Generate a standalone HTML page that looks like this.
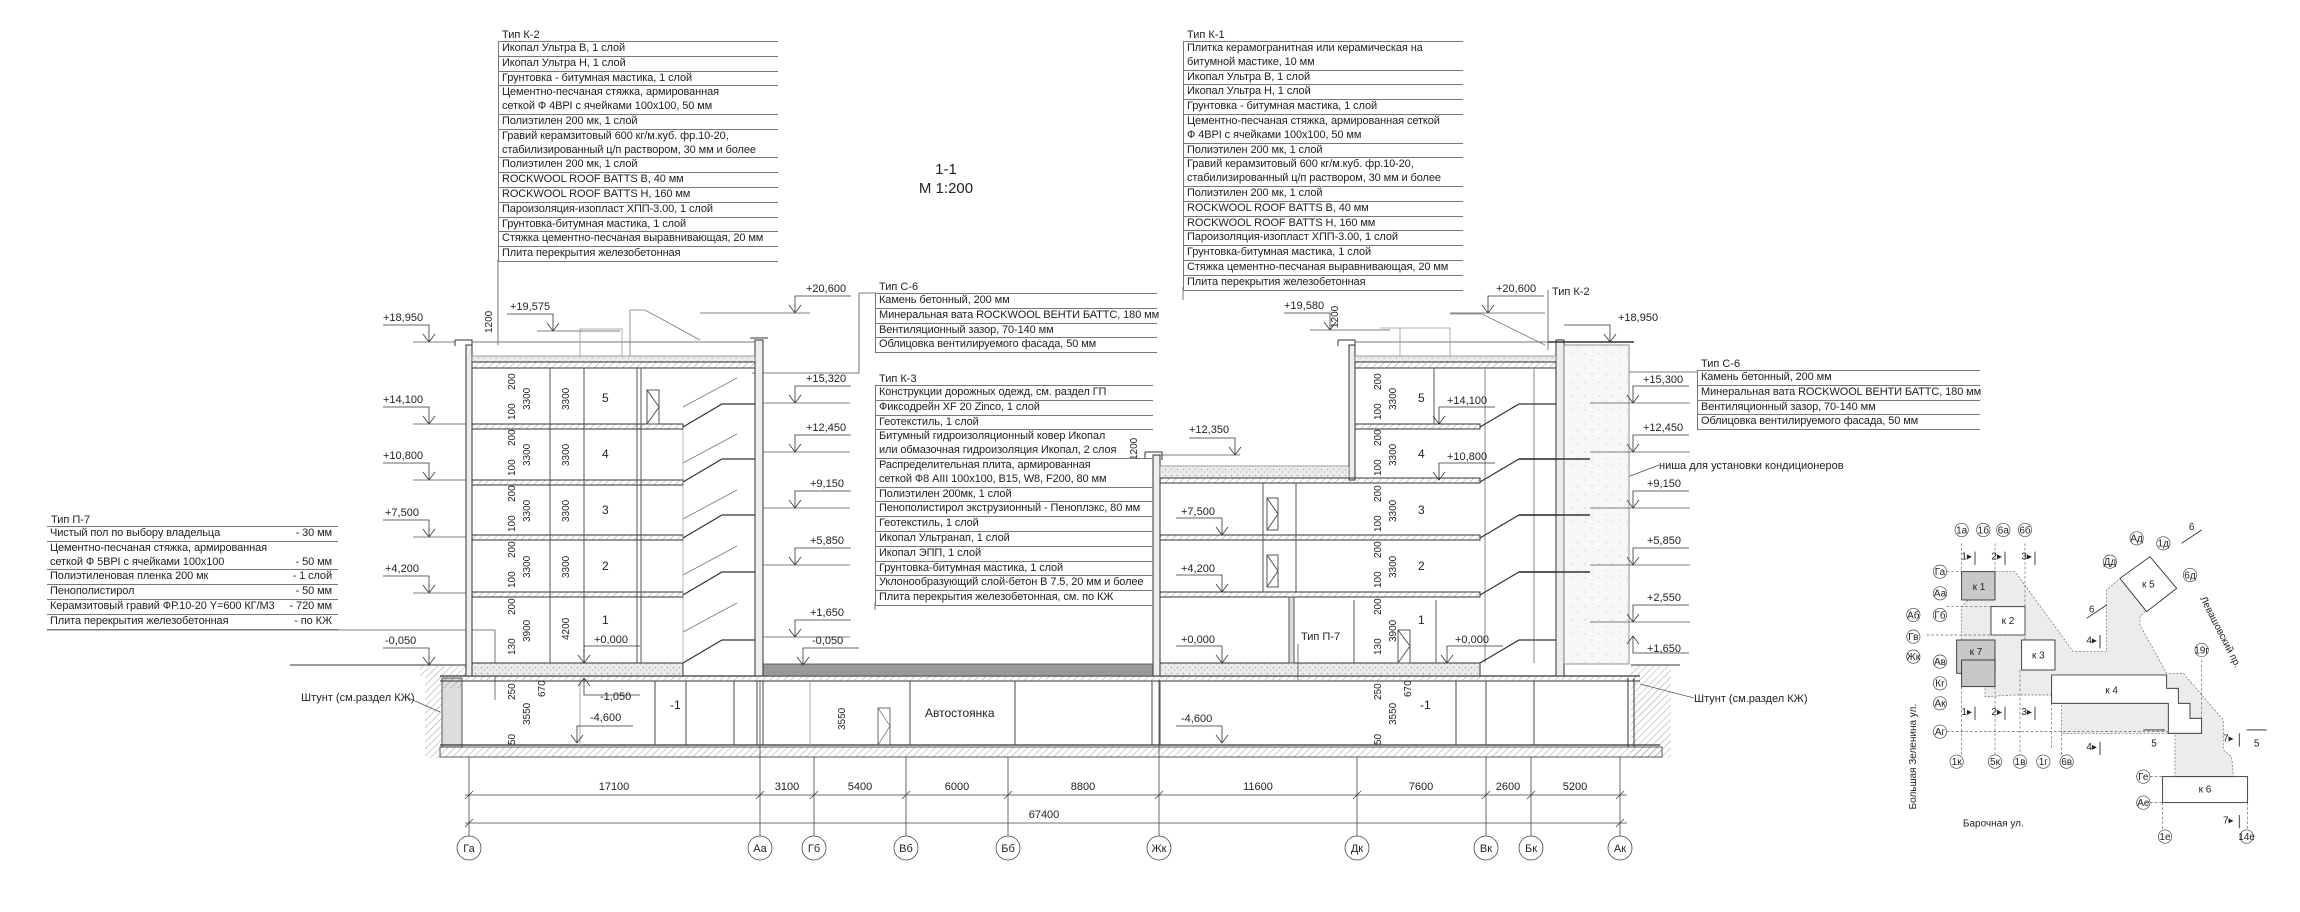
<!DOCTYPE html>
<html><head><meta charset="utf-8">
<style>
html,body{margin:0;padding:0;background:#fff;}
body{width:2300px;height:912px;position:relative;overflow:hidden;font-family:"Liberation Sans","DejaVu Sans",sans-serif;color:#222;}
.t{position:absolute;font-size:11px;line-height:13.8px;}
.t .h{padding-left:4px;height:12px;line-height:12px;}
.t .r{border-top:1px solid #777;padding-left:3px;white-space:nowrap;letter-spacing:-0.1px}
.t .b{border-top:1px solid #777;}
.t .body{border-left:1px solid #777;}
.t .r span{float:right;padding-right:6px}
svg{position:absolute;left:0;top:0}
svg text{font-family:"Liberation Sans","DejaVu Sans",sans-serif;fill:#222}
</style></head><body>
<svg width="2300" height="912" viewBox="0 0 2300 912" xmlns="http://www.w3.org/2000/svg">
<defs>
<pattern id="hat" width="5" height="5" patternUnits="userSpaceOnUse" patternTransform="rotate(45)"><line x1="0" y1="0" x2="0" y2="5" stroke="#777" stroke-width="0.7"/></pattern>
<pattern id="gr" width="6" height="6" patternUnits="userSpaceOnUse"><rect width="6" height="6" fill="#ececec"/><circle cx="1.5" cy="1.5" r="0.8" fill="#aaa"/><circle cx="4.5" cy="4" r="0.7" fill="#bbb"/></pattern>
<pattern id="st" width="14" height="14" patternUnits="userSpaceOnUse"><rect width="14" height="14" fill="#f7f7f7"/><circle cx="3" cy="4" r="0.6" fill="#bbb"/><circle cx="10" cy="10" r="0.6" fill="#bbb"/><circle cx="11" cy="2" r="0.5" fill="#ccc"/></pattern>
<g id="lv" fill="none" stroke="#333" stroke-width="0.8"><path d="M-46,-17 H0 V0 M-6,-8 L0,0 L6,-8"/></g>
<g id="lvr" fill="none" stroke="#333" stroke-width="0.8"><path d="M56,-17 H0 V0 M-6,-8 L0,0 L6,-8"/></g>
<g id="lvu" fill="none" stroke="#333" stroke-width="0.8"><path d="M56,17 H0 V0 M-6,8 L0,0 L6,8"/></g>
</defs>

<text x="946" y="174" font-size="15" text-anchor="middle">1-1</text>
<text x="946" y="193" font-size="15" text-anchor="middle">М 1:200</text>

<g stroke="#555" stroke-width="0.8" fill="none">
<path d="M498,259 V345"/>
<path d="M1183,287 V300"/>
<path d="M752,373 H859 V293 H876"/>
<path d="M875,603 V610"/>
<path d="M1570,372 H1697"/>
<path d="M1548,290 V350"/>
<path d="M47,630 H495 V700"/>
<path d="M1659,465 L1572,498"/>
</g>

<g stroke="#333" stroke-width="0.9" fill="none">
<path d="M290,665 H466"/>
<path d="M1631,665 H1680"/>
</g>
<rect x="420" y="666" width="46" height="10" fill="url(#hat)"/>
<rect x="425" y="676" width="17" height="82" fill="url(#hat)"/>
<rect x="1631" y="666" width="40" height="92" fill="url(#hat)"/>

<rect x="440" y="747" width="1222" height="10" fill="url(#hat)" stroke="#333" stroke-width="0.8"/>
<rect x="442" y="678" width="20" height="69" fill="#ddd" stroke="#333" stroke-width="0.8"/>
<rect x="442" y="678" width="20" height="10" fill="url(#hat)"/>
<g stroke="#333" fill="none">
<path d="M440,676 H1640" stroke-width="1.2"/>
<path d="M440,681 H1640" stroke-width="1"/>
<path d="M440,745 H1660" stroke-width="1.2"/>
<path d="M1628,678 V747 M1634,678 V747" stroke-width="1"/>
</g>
<rect x="440" y="676" width="1200" height="5" fill="url(#hat)"/>
<g stroke="#444" stroke-width="1" fill="none">
<path d="M655,681 V745 M686,681 V745 M734,681 V745 M757,681 V745 M763,681 V745 M910,681 V745 M1015,681 V745 M1152,681 V745 M1160,681 V745 M1456,681 V745 M1486,681 V745 M1534,681 V745"/>
<path d="M810,681 V745 M580,681 V745" stroke="#aaa"/>
</g>
<rect x="763" y="664" width="390" height="12" fill="#999" stroke="#444" stroke-width="0.8"/>
<rect x="878" y="708" width="12" height="37" fill="none" stroke="#444" stroke-width="0.8"/>
<path d="M878,708 L890,726 L878,745" fill="none" stroke="#444" stroke-width="0.6"/>

<g stroke="#333" fill="none" stroke-width="1">
<rect x="466" y="345" width="6" height="331" fill="#eee"/>
<path d="M455,340 H472 V348 M455,340 V346"/>
<rect x="755" y="340" width="8" height="336" fill="#eee"/>
<path d="M750,338 H768"/>
<path d="M472,342 H755" stroke="#777"/>
</g>
<rect x="472" y="356" width="283" height="6" fill="url(#gr)" stroke="#666" stroke-width="0.6"/>
<rect x="472" y="362" width="283" height="6" fill="url(#hat)" stroke="#333" stroke-width="1"/>
<rect x="580" y="329" width="42" height="27" fill="none" stroke="#999" stroke-width="0.8"/>
<path d="M630,310 V356 M630,310 H645 L700,340" fill="none" stroke="#777" stroke-width="0.8"/>
<g>
<rect x="472" y="424" width="211" height="5" fill="url(#hat)" stroke="#333" stroke-width="1"/>
<rect x="472" y="480" width="211" height="5" fill="url(#hat)" stroke="#333" stroke-width="1"/>
<rect x="472" y="535" width="211" height="5" fill="url(#hat)" stroke="#333" stroke-width="1"/>
<rect x="472" y="592" width="211" height="5" fill="url(#hat)" stroke="#333" stroke-width="1"/>
<rect x="472" y="663" width="211" height="13" fill="url(#gr)" stroke="#333" stroke-width="1"/>
</g>
<g stroke="#555" stroke-width="1" fill="none">
<path d="M550,368 V663 M584,368 V663 M637,368 V663 M641,368 V663"/>
<rect x="647" y="390" width="12" height="34"/>
<path d="M647,390 L659,407 L647,424"/>
</g>
<g stroke="#333" stroke-width="1.2" fill="none">
<path d="M683,427 L722,404 H755 M683,482 L722,459 H755 M683,538 L722,515 H755 M683,595 L722,572 H755 M683,663 L722,640 H755"/>
<path d="M683,407 L737,378 M683,463 L737,434 M683,519 L737,490 M683,575 L737,546 M683,632 L737,603" stroke="#777" stroke-width="0.8"/>
<path d="M683,427 V663" stroke="#888" stroke-width="0.6"/>
</g>

<g stroke="#333" fill="none" stroke-width="1">
<rect x="1153" y="455" width="7" height="221" fill="#eee"/>
<path d="M1145,452 H1162 V460 M1145,452 V458"/>
<rect x="1349" y="345" width="6" height="135" fill="#eee"/>
<path d="M1338,340 H1355 V348 M1338,340 V346"/>
<rect x="1556" y="340" width="8" height="336" fill="#eee"/>
<path d="M1355,342 H1556" stroke="#777"/>
</g>
<rect x="1564" y="345" width="65" height="319" fill="url(#st)" stroke="#777" stroke-width="0.8"/>
<path d="M1548,342 H1634" stroke="#333" stroke-width="1.5"/>
<rect x="1160" y="466" width="189" height="12" fill="url(#gr)" stroke="#666" stroke-width="0.6"/>
<rect x="1160" y="478" width="320" height="5" fill="url(#hat)" stroke="#333" stroke-width="1"/>
<rect x="1355" y="356" width="201" height="6" fill="url(#gr)" stroke="#666" stroke-width="0.6"/>
<rect x="1355" y="362" width="201" height="6" fill="url(#hat)" stroke="#333" stroke-width="1"/>
<rect x="1355" y="424" width="125" height="5" fill="url(#hat)" stroke="#333" stroke-width="1"/>
<rect x="1160" y="535" width="320" height="5" fill="url(#hat)" stroke="#333" stroke-width="1"/>
<rect x="1160" y="592" width="320" height="5" fill="url(#hat)" stroke="#333" stroke-width="1"/>
<rect x="1160" y="663" width="320" height="13" fill="url(#gr)" stroke="#333" stroke-width="1"/>
<path d="M1380,328 H1450 V356 M1400,328 V356" fill="none" stroke="#999" stroke-width="0.8"/>
<path d="M1450,314 H1482 L1545,345" fill="none" stroke="#777" stroke-width="0.8"/>
<g stroke="#555" stroke-width="1" fill="none">
<path d="M1263,483 V592 M1296,483 V592 M1434,368 V424 M1436,600 V663 M1354,600 V663"/>
<rect x="1289" y="597" width="5" height="66" fill="#ddd"/>
<rect x="1267" y="498" width="11" height="32"/><path d="M1267,498 L1278,514 L1267,530"/>
<rect x="1267" y="555" width="11" height="32"/><path d="M1267,555 L1278,571 L1267,587"/>
<rect x="1398" y="630" width="12" height="33"/><path d="M1398,630 L1410,646 L1398,663"/>
<path d="M1485,368 V663 M1534,368 V663" stroke="#888"/>
</g>
<g stroke="#333" stroke-width="1.2" fill="none">
<path d="M1480,427 L1519,404 H1556 M1480,482 L1519,459 H1556 M1480,538 L1519,515 H1556 M1480,595 L1519,572 H1556 M1480,663 L1519,640 H1556"/>
<path d="M1519,459 H1590 M1519,515 H1590 M1519,572 H1590" stroke-width="1.5"/>
</g>

<g font-size="11">
<use href="#lv" x="429" y="342"/><text x="383" y="321">+18,950</text><path d="M413,342 H455" stroke="#555" stroke-width="0.8"/>
<use href="#lv" x="429" y="424"/><text x="383" y="403">+14,100</text><path d="M413,424 H466" stroke="#555" stroke-width="0.8"/>
<use href="#lv" x="429" y="480"/><text x="383" y="459">+10,800</text><path d="M413,480 H466" stroke="#555" stroke-width="0.8"/>
<use href="#lv" x="429" y="537"/><text x="385" y="516">+7,500</text><path d="M413,537 H466" stroke="#555" stroke-width="0.8"/>
<use href="#lv" x="429" y="593"/><text x="385" y="572">+4,200</text><path d="M413,593 H466" stroke="#555" stroke-width="0.8"/>
<use href="#lv" x="429" y="665"/><text x="385" y="644">-0,050</text>

<use href="#lv" x="553" y="331"/><text x="510" y="310">+19,575</text><path d="M537,331 H620" stroke="#555" stroke-width="0.8"/>
<use href="#lvr" x="795" y="313"/><text x="806" y="292">+20,600</text><path d="M700,313 H810" stroke="#555" stroke-width="0.8"/>
<use href="#lvr" x="795" y="403"/><text x="806" y="382">+15,320</text><path d="M763,403 H850" stroke="#555" stroke-width="0.8"/>
<use href="#lvr" x="795" y="452"/><text x="806" y="431">+12,450</text><path d="M763,452 H850" stroke="#555" stroke-width="0.8"/>
<use href="#lvr" x="795" y="508"/><text x="810" y="487">+9,150</text><path d="M763,508 H850" stroke="#555" stroke-width="0.8"/>
<use href="#lvr" x="795" y="565"/><text x="810" y="544">+5,850</text><path d="M763,565 H850" stroke="#555" stroke-width="0.8"/>
<use href="#lvr" x="795" y="637"/><text x="810" y="616">+1,650</text><path d="M763,637 H850" stroke="#555" stroke-width="0.8"/>
<use href="#lvr" x="803" y="665"/><text x="812" y="644">-0,050</text>
<use href="#lvr" x="584" y="663"/><text x="594" y="643">+0,000</text>
<use href="#lvu" x="584" y="678"/><text x="600" y="700">-1,050</text>
<use href="#lvr" x="577" y="743"/><text x="590" y="721">-4,600</text>
<text x="670" y="709" font-size="12">-1</text>
<text x="925" y="717" font-size="12">Автостоянка</text>

<use href="#lv" x="1330" y="330"/><text x="1284" y="309">+19,580</text><path d="M1310,330 H1390" stroke="#555" stroke-width="0.8"/>
<use href="#lvr" x="1488" y="313"/><text x="1496" y="292">+20,600</text><path d="M1450,313 H1545" stroke="#555" stroke-width="0.8"/>
<text x="1552" y="295">Тип К-2</text>
<use href="#lv" x="1235" y="455"/><text x="1189" y="433">+12,350</text><path d="M1160,455 H1240" stroke="#555" stroke-width="0.8"/>
<use href="#lvr" x="1439" y="424"/><text x="1447" y="404">+14,100</text>
<use href="#lvr" x="1439" y="480"/><text x="1447" y="460">+10,800</text>
<use href="#lv" x="1222" y="535"/><text x="1181" y="515">+7,500</text>
<use href="#lv" x="1222" y="592"/><text x="1181" y="572">+4,200</text>
<use href="#lv" x="1222" y="663"/><text x="1181" y="643">+0,000</text>
<use href="#lvr" x="1447" y="663"/><text x="1455" y="643">+0,000</text>
<use href="#lv" x="1222" y="743"/><text x="1181" y="722">-4,600</text>
<text x="1420" y="709" font-size="12">-1</text>
<text x="1301" y="640">Тип П-7</text>
<path d="M1298,644 V680" stroke="#555" stroke-width="0.8"/>

<use href="#lv" x="1610" y="342"/><text x="1618" y="321">+18,950</text>
<use href="#lvr" x="1633" y="403"/><text x="1643" y="383">+15,300</text><path d="M1590,403 H1690" stroke="#555" stroke-width="0.8"/>
<use href="#lvr" x="1633" y="452"/><text x="1643" y="431">+12,450</text><path d="M1590,452 H1690" stroke="#555" stroke-width="0.8"/>
<use href="#lvr" x="1633" y="508"/><text x="1647" y="487">+9,150</text><path d="M1590,508 H1690" stroke="#555" stroke-width="0.8"/>
<use href="#lvr" x="1633" y="565"/><text x="1647" y="544">+5,850</text><path d="M1590,565 H1690" stroke="#555" stroke-width="0.8"/>
<use href="#lvr" x="1633" y="622"/><text x="1647" y="601">+2,550</text><path d="M1590,622 H1690" stroke="#555" stroke-width="0.8"/>
<use href="#lvu" x="1633" y="636"/><text x="1647" y="652">+1,650</text>
<text x="1659" y="469">ниша для установки кондиционеров</text>
<text x="301" y="701">Штунт (см.раздел КЖ)</text><path d="M406,697 L440,712" stroke="#555" stroke-width="0.8"/>
<text x="1694" y="702">Штунт (см.раздел КЖ)</text><path d="M1694,698 L1640,684" stroke="#555" stroke-width="0.8"/>
</g>

<g font-size="10">
<text transform="translate(492,333) rotate(-90)">1200</text>
<text transform="translate(1137,460) rotate(-90)">1200</text>
<text transform="translate(1338,328) rotate(-90)">1200</text>
<g id="ld">
<text transform="translate(515,390) rotate(-90)">200</text>
<text transform="translate(530,410) rotate(-90)">3300</text>
<text transform="translate(515,420) rotate(-90)">100</text>
<text transform="translate(569,410) rotate(-90)">3300</text>
</g>
<use href="#ld" y="56"/><use href="#ld" y="112"/><use href="#ld" y="168"/>
<text transform="translate(515,615) rotate(-90)">200</text>
<text transform="translate(530,642) rotate(-90)">3900</text>
<text transform="translate(515,655) rotate(-90)">130</text>
<text transform="translate(569,640) rotate(-90)">4200</text>
<text transform="translate(515,700) rotate(-90)">250</text>
<text transform="translate(530,725) rotate(-90)">3550</text>
<text transform="translate(515,745) rotate(-90)">50</text>
<text transform="translate(545,697) rotate(-90)">670</text>
<text transform="translate(845,730) rotate(-90)">3550</text>
<g id="rd">
<text transform="translate(1381,390) rotate(-90)">200</text>
<text transform="translate(1396,410) rotate(-90)">3300</text>
<text transform="translate(1381,420) rotate(-90)">100</text>
</g>
<use href="#rd" y="56"/><use href="#rd" y="112"/><use href="#rd" y="168"/>
<text transform="translate(1381,615) rotate(-90)">200</text>
<text transform="translate(1396,642) rotate(-90)">3900</text>
<text transform="translate(1381,655) rotate(-90)">130</text>
<text transform="translate(1381,700) rotate(-90)">250</text>
<text transform="translate(1396,725) rotate(-90)">3550</text>
<text transform="translate(1381,745) rotate(-90)">50</text>
<text transform="translate(1411,697) rotate(-90)">670</text>
</g>
<g font-size="12">
<text x="602" y="402">5</text><text x="602" y="458">4</text><text x="602" y="514">3</text><text x="602" y="570">2</text><text x="602" y="624">1</text>
<text x="1418" y="402">5</text><text x="1418" y="458">4</text><text x="1418" y="514">3</text><text x="1418" y="570">2</text><text x="1418" y="624">1</text>
</g>

<g stroke="#444" stroke-width="0.8" fill="none">
<path d="M469,757 V836 M760,680 V836 M814,757 V836 M906,757 V836 M1008,757 V836 M1159,680 V836 M1357,757 V836 M1486,757 V836 M1531,757 V836 M1620,757 V836"/>
<path d="M465,795 H1627 M465,823 H1627"/>
<path d="M465,799 l8,-8 M756,799 l8,-8 M810,799 l8,-8 M902,799 l8,-8 M1004,799 l8,-8 M1155,799 l8,-8 M1353,799 l8,-8 M1482,799 l8,-8 M1527,799 l8,-8 M1616,799 l8,-8 M465,827 l8,-8 M1616,827 l8,-8"/>
<circle cx="469" cy="848" r="12"/><circle cx="760" cy="848" r="12"/><circle cx="814" cy="848" r="12"/><circle cx="906" cy="848" r="12"/><circle cx="1008" cy="848" r="12"/><circle cx="1159" cy="848" r="12"/><circle cx="1357" cy="848" r="12"/><circle cx="1486" cy="848" r="12"/><circle cx="1531" cy="848" r="12"/><circle cx="1620" cy="848" r="12"/>
</g>
<g font-size="11" text-anchor="middle">
<text x="614" y="790">17100</text><text x="787" y="790">3100</text><text x="860" y="790">5400</text><text x="957" y="790">6000</text><text x="1083" y="790">8800</text><text x="1258" y="790">11600</text><text x="1421" y="790">7600</text><text x="1508" y="790">2600</text><text x="1575" y="790">5200</text>
<text x="1044" y="818">67400</text>
<text x="469" y="852">Га</text><text x="760" y="852">Аа</text><text x="814" y="852">Гб</text><text x="906" y="852">Вб</text><text x="1008" y="852">Бб</text><text x="1159" y="852">Жк</text><text x="1357" y="852">Дк</text><text x="1486" y="852">Вк</text><text x="1531" y="852">Бк</text><text x="1620" y="852">Ак</text>
</g>

<g transform="translate(1880,510) scale(0.3333)">
<path d="M345,185 L405,185 L580,425 L680,425 L680,240 L720,205 L800,300 L780,320 L780,345 L860,490 L910,490 L1030,630 L1030,720 L1055,740 L1060,800 L885,800 L885,670 L545,670 L545,580 L515,580 L515,555 L405,555 L315,560 L315,530 L245,530 L245,290 Z" fill="#ececec" stroke="#666" stroke-width="2" stroke-dasharray="6,5"/>
<g stroke="#222" stroke-width="2.5">
<rect x="245" y="185" width="100" height="85" fill="#c8c8c8"/>
<rect x="333" y="290" width="102" height="85" fill="#fff"/>
<rect x="230" y="390" width="115" height="100" fill="#c8c8c8"/>
<rect x="245" y="450" width="100" height="80" fill="#c8c8c8"/>
<rect x="425" y="390" width="100" height="90" fill="#fff"/>
<path d="M515,495 H860 V535 H895 V580 H930 V625 H965 V670 H865 V580 H515 Z" fill="#fff"/>
<path d="M720,205 L810,140 L890,235 L800,305 Z" fill="#fff"/>
<rect x="848" y="800" width="255" height="78" fill="#fff"/>
</g>
<g stroke="#666" stroke-width="2" stroke-dasharray="8,6" fill="none">
<path d="M245,100 V185 M345,100 V185 M435,100 V390 M245,530 V740 M345,530 V740 M420,480 V740 M515,580 V720 M545,670 V740 M848,878 V960 M1103,878 V960 M200,185 H245 M200,290 H333 M140,375 H425 M200,665 H865 M810,800 H848 M810,878 H848 M965,450 V625"/>
</g>
<g stroke="#444" stroke-width="2" fill="#fff">
<circle cx="245" cy="60" r="20"/><circle cx="310" cy="60" r="20"/><circle cx="370" cy="60" r="20"/><circle cx="435" cy="60" r="20"/>
<circle cx="180" cy="185" r="20"/><circle cx="180" cy="250" r="20"/><circle cx="180" cy="315" r="20"/><circle cx="100" cy="315" r="20"/><circle cx="100" cy="380" r="20"/><circle cx="100" cy="440" r="20"/><circle cx="180" cy="455" r="20"/><circle cx="180" cy="520" r="20"/><circle cx="180" cy="580" r="20"/><circle cx="180" cy="665" r="20"/>
<circle cx="230" cy="755" r="20"/><circle cx="345" cy="755" r="20"/><circle cx="420" cy="755" r="20"/><circle cx="490" cy="755" r="20"/><circle cx="560" cy="755" r="20"/>
<circle cx="690" cy="155" r="20"/><circle cx="770" cy="85" r="20"/><circle cx="850" cy="100" r="20"/><circle cx="930" cy="195" r="20"/><circle cx="965" cy="420" r="20"/>
<circle cx="790" cy="800" r="20"/><circle cx="790" cy="878" r="20"/><circle cx="855" cy="980" r="20"/><circle cx="1100" cy="980" r="20"/>
</g>
<g font-size="30" text-anchor="middle">
<text x="245" y="70">1а</text><text x="310" y="70">1б</text><text x="370" y="70">6а</text><text x="435" y="70">6б</text>
<text x="180" y="195">Га</text><text x="180" y="260">Аа</text><text x="180" y="325">Гб</text><text x="100" y="325">Аб</text><text x="100" y="390">Гв</text><text x="100" y="450">Жк</text><text x="180" y="465">Ав</text><text x="180" y="530">Кг</text><text x="180" y="590">Ак</text><text x="180" y="675">Аг</text>
<text x="230" y="765">1к</text><text x="345" y="765">5к</text><text x="420" y="765">1в</text><text x="490" y="765">1г</text><text x="560" y="765">6в</text>
<text x="690" y="165">Дд</text><text x="770" y="95">Ад</text><text x="850" y="110">1д</text><text x="930" y="205">6д</text><text x="965" y="430">19г</text>
<text x="790" y="810">Ге</text><text x="790" y="888">Ае</text><text x="855" y="990">1е</text><text x="1100" y="990">14е</text>
<text x="297" y="240">к 1</text><text x="384" y="342">к 2</text><text x="288" y="435">к 7</text><text x="475" y="445">к 3</text><text x="695" y="550">к 4</text><text x="805" y="232">к 5</text><text x="975" y="848">к 6</text>
<text x="260" y="148">1▸</text><text x="350" y="148">2▸</text><text x="440" y="148">3▸</text>
<text x="260" y="615">1▸</text><text x="350" y="615">2▸</text><text x="440" y="615">3▸</text>
<text x="635" y="400">4▸</text><text x="635" y="720">4▸</text><text x="635" y="308">6</text><text x="935" y="60">6</text>
<text x="822" y="710">5</text><text x="1130" y="710">5</text><text x="1045" y="695">7▸</text><text x="1045" y="940">7▸</text>
<text x="340" y="950">Барочная ул.</text>
<text transform="translate(108,740) rotate(-90)">Большая Зеленина ул.</text>
<text transform="translate(960,265) rotate(63)" text-anchor="start">Левашовский пр.</text>
</g>
<g stroke="#222" stroke-width="2.5"><path d="M285,125 V165 M375,125 V165 M465,125 V165 M285,590 V630 M375,590 V630 M465,590 V630 M660,375 V415 M660,695 V735 M790,660 H855 M1100,660 H1160 M1078,670 V710 M1078,915 V955 M620,325 L680,285 M905,100 L965,60"/></g>
</g>
</svg>

<div class="t" style="left:498px;top:29px;width:280px">
<div class="h">Тип К-2</div>
<div class="body">
<div class="r">Икопал Ультра В, 1 слой</div>
<div class="r">Икопал Ультра Н, 1 слой</div>
<div class="r">Грунтовка - битумная мастика, 1 слой</div>
<div class="r">Цементно-песчаная стяжка, армированная<br>сеткой Ф 4ВРI с ячейками 100х100, 50 мм</div>
<div class="r">Полиэтилен 200 мк, 1 слой</div>
<div class="r">Гравий керамзитовый 600 кг/м.куб. фр.10-20,<br>стабилизированный ц/п раствором, 30 мм и более</div>
<div class="r">Полиэтилен 200 мк, 1 слой</div>
<div class="r">ROCKWOOL ROOF BATTS В, 40 мм</div>
<div class="r">ROCKWOOL ROOF BATTS Н, 160 мм</div>
<div class="r">Пароизоляция-изопласт ХПП-3.00, 1 слой</div>
<div class="r">Грунтовка-битумная мастика, 1 слой</div>
<div class="r">Стяжка цементно-песчаная выравнивающая, 20 мм</div>
<div class="r">Плита перекрытия железобетонная</div>
<div class="b"></div>
</div></div>

<div class="t" style="left:1183px;top:29px;width:280px">
<div class="h">Тип К-1</div>
<div class="body">
<div class="r">Плитка керамогранитная или керамическая на<br>битумной мастике, 10 мм</div>
<div class="r">Икопал Ультра В, 1 слой</div>
<div class="r">Икопал Ультра Н, 1 слой</div>
<div class="r">Грунтовка - битумная мастика, 1 слой</div>
<div class="r">Цементно-песчаная стяжка, армированная сеткой<br>Ф 4ВРI с ячейками 100х100, 50 мм</div>
<div class="r">Полиэтилен 200 мк, 1 слой</div>
<div class="r">Гравий керамзитовый 600 кг/м.куб. фр.10-20,<br>стабилизированный ц/п раствором, 30 мм и более</div>
<div class="r">Полиэтилен 200 мк, 1 слой</div>
<div class="r">ROCKWOOL ROOF BATTS В, 40 мм</div>
<div class="r">ROCKWOOL ROOF BATTS Н, 160 мм</div>
<div class="r">Пароизоляция-изопласт ХПП-3.00, 1 слой</div>
<div class="r">Грунтовка-битумная мастика, 1 слой</div>
<div class="r">Стяжка цементно-песчаная выравнивающая, 20 мм</div>
<div class="r">Плита перекрытия железобетонная</div>
<div class="b"></div>
</div></div>

<div class="t" style="left:875px;top:281px;width:282px">
<div class="h">Тип С-6</div>
<div class="body">
<div class="r">Камень бетонный, 200 мм</div>
<div class="r">Минеральная вата ROCKWOOL ВЕНТИ БАТТС, 180 мм</div>
<div class="r">Вентиляционный зазор, 70-140 мм</div>
<div class="r">Облицовка вентилируемого фасада, 50 мм</div>
<div class="b"></div>
</div></div>

<div class="t" style="left:875px;top:373px;width:278px">
<div class="h">Тип К-3</div>
<div class="body">
<div class="r">Конструкции дорожных одежд, см. раздел ГП</div>
<div class="r">Фиксодрейн XF 20 Zinco, 1 слой</div>
<div class="r">Геотекстиль, 1 слой</div>
<div class="r">Битумный гидроизоляционный ковер Икопал<br>или обмазочная гидроизоляция Икопал, 2 слоя</div>
<div class="r">Распределительная плита, армированная<br>сеткой Ф8 AIII 100х100, B15, W8, F200,  80 мм</div>
<div class="r">Полиэтилен 200мк, 1 слой</div>
<div class="r">Пенополистирол экструзионный - Пеноплэкс, 80 мм</div>
<div class="r">Геотекстиль, 1 слой</div>
<div class="r">Икопал Ультранап, 1 слой</div>
<div class="r">Икопал ЭПП, 1 слой</div>
<div class="r">Грунтовка-битумная мастика, 1 слой</div>
<div class="r">Уклонообразующий слой-бетон B 7.5, 20 мм и более</div>
<div class="r">Плита перекрытия железобетонная, см. по КЖ</div>
<div class="b"></div>
</div></div>

<div class="t" style="left:1697px;top:358px;width:283px">
<div class="h">Тип С-6</div>
<div class="body">
<div class="r">Камень бетонный, 200 мм</div>
<div class="r">Минеральная вата ROCKWOOL ВЕНТИ БАТТС, 180 мм</div>
<div class="r">Вентиляционный зазор, 70-140 мм</div>
<div class="r">Облицовка вентилируемого фасада, 50 мм</div>
<div class="b"></div>
</div></div>

<div class="t" style="left:47px;top:514px;width:291px">
<div class="h">Тип П-7</div>
<div class="body" style="border-left:none">
<div class="r">Чистый пол по выбору владельца<span>- 30 мм</span></div>
<div class="r">Цементно-песчаная стяжка, армированная<br>сеткой Ф 5ВРI с ячейками 100х100<span>- 50 мм</span></div>
<div class="r">Полиэтиленовая пленка 200 мк<span>- 1 слой</span></div>
<div class="r">Пенополистирол<span>- 50 мм</span></div>
<div class="r">Керамзитовый гравий ФР.10-20 Y=600 КГ/М3<span>- 720 мм</span></div>
<div class="r">Плита перекрытия железобетонная<span>- по КЖ</span></div>
<div class="b"></div>
</div></div>
</body></html>
